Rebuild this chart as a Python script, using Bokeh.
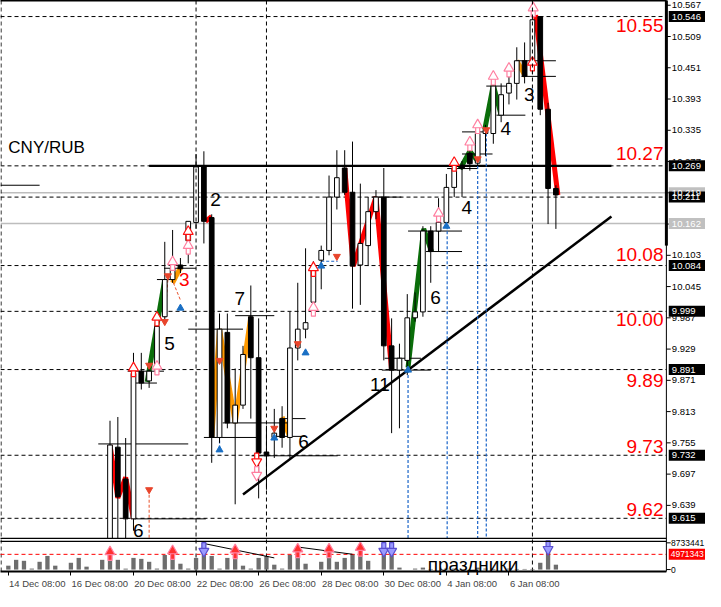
from bokeh.plotting import figure
from bokeh.models import Range1d, FixedTicker, Span, BoxAnnotation, ColumnDataSource
from bokeh.core.properties import value
from bokeh.embed import file_html
from bokeh.resources import INLINE

# ---------------- data (bar index 0 = 14 Dec 08:00) ----------------
candle_idx = list(range(13, 71))
open_ = [9.556, 9.747, 9.688, 9.614, 9.888, 9.870, 9.890, 9.989, 10.058, 10.085,
         10.130, 10.164, 10.267, 10.173, 9.765, 9.960, 9.792, 9.825, 9.989, 9.913,
         9.738, 9.765, 9.800, 9.765, 9.931, 9.966, 10.016, 10.094, 10.112, 10.211,
         10.265, 10.220, 10.085, 10.121, 10.184, 10.211, 9.935, 9.890, 9.908, 9.987,
         9.998, 10.148, 10.148, 10.164, 10.229, 10.270, 10.292, 10.274, 10.329, 10.329,
         10.363, 10.404, 10.422, 10.464, 10.464, 10.546, 10.374, 10.227]
high = [9.796, 9.803, 9.764, 9.922, 9.922, 9.904, 9.989, 10.128, 10.150, 10.098,
        10.166, 10.291, 10.296, 10.179, 9.995, 9.995, 9.893, 9.935, 10.047, 9.986,
        9.787, 9.818, 9.823, 9.998, 10.052, 10.116, 10.092, 10.121, 10.251, 10.298,
        10.298, 10.314, 10.236, 10.211, 10.224, 10.265, 9.986, 9.939, 10.031, 10.034,
        10.157, 10.157, 10.209, 10.254, 10.282, 10.278, 10.318, 10.341, 10.345, 10.440,
        10.422, 10.435, 10.489, 10.498, 10.546, 10.546, 10.386, 10.233]
low = [9.547, 9.547, 9.547, 9.592, 9.854, 9.857, 9.884, 9.980, 10.052, 10.070,
       10.088, 10.152, 10.125, 9.718, 9.755, 9.782, 9.641, 9.818, 9.800, 9.652,
       9.668, 9.727, 9.746, 9.727, 9.908, 9.949, 9.993, 10.040, 10.103, 10.188,
       10.215, 10.004, 10.011, 10.083, 10.170, 9.908, 9.773, 9.782, 9.881, 9.980,
       9.989, 10.052, 10.110, 10.157, 10.211, 10.211, 10.260, 10.269, 10.287, 10.310,
       10.350, 10.383, 10.392, 10.422, 10.440, 10.363, 10.161, 10.152]
close = [9.751, 9.655, 9.614, 9.884, 9.866, 9.888, 9.971, 10.058, 10.078, 10.078,
         10.166, 10.267, 10.166, 9.765, 9.966, 9.792, 9.825, 9.919, 9.913, 9.736,
         9.731, 9.773, 9.765, 9.931, 9.966, 9.978, 10.083, 10.112, 10.211, 10.247,
         10.220, 10.083, 10.125, 10.184, 10.211, 9.935, 9.890, 9.912, 9.987, 9.998,
         10.148, 10.110, 10.164, 10.229, 10.264, 10.264, 10.273, 10.329, 10.336, 10.417,
         10.401, 10.422, 10.464, 10.435, 10.540, 10.374, 10.227, 10.215]

vol_idx = list(range(0, 71))
vol_millions = [1.27, 3.18, 2.86, 0.32, 2.54, 4.45, 1.27, 0.0, 2.22, 3.81,
                0.95, 0.0, 3.18, 5.40, 3.18, 0.30, 3.81, 3.49, 2.54, 0.32,
                4.76, 5.40, 1.91, 0.32, 3.81, 8.73, 4.45, 0.32, 3.81, 6.99,
                1.27, 0.32, 3.81, 4.45, 1.59, 0.32, 4.76, 7.30, 1.91, 0.0,
                2.54, 5.72, 2.54, 3.81, 5.08, 7.30, 2.86, 0.0, 5.72, 5.72,
                0.64, 0.0, 0.32, 0.64, 0.20, 0.0, 0.32, 0.32, 0.20, 0.0,
                0.64, 0.32, 0.20, 0.0, 0.32, 0.20, 0.20, 0.20, 2.22, 5.72, 1.59]
VOL_MAX = 8733441
VOL_LEVEL = 4971343

price_ticks = [10.567, 10.509, 10.451, 10.393, 10.335, 10.277, 10.219, 10.161, 10.103,
               10.045, 9.987, 9.929, 9.871, 9.813, 9.755, 9.697, 9.639]
time_tick_idx = [0, 8, 16, 24, 32, 40, 48, 56, 64]
time_tick_labels = ["14 Dec 08:00", "16 Dec 08:00", "20 Dec 08:00", "22 Dec 08:00",
                    "26 Dec 08:00", "28 Dec 08:00", "30 Dec 08:00", "4 Jan 08:00", "6 Jan 08:00"]

level_prices = [10.546, 10.269, 10.211, 10.084, 9.999, 9.891, 9.732, 9.615]
grey_prices = [10.219, 10.162]
level_text = ["10.55", "10.27", "10.08", "10.00", "9.89", "9.73", "9.62"]
level_text_y = [10.529, 10.291, 10.105, 9.984, 9.870, 9.749, 9.632]

# zigzag legs (bar index, price)
zz_red_x = [[13, 14, 15, 16], [25.2, 26], [43, 44.1, 47, 49], [67.4, 70.25]]
zz_red_y = [[9.751, 9.653, 9.691, 9.614], [10.166, 10.175], [10.265, 10.083, 10.211, 9.890], [10.549, 10.215]]
zz_green_x = [[17.75, 20], [51.1, 53.1, 54.1], [57.75, 59, 60], [60.9, 62, 63]]
zz_green_y = [[9.868, 10.058], [9.895, 10.152, 10.110], [10.263, 10.296, 10.278], [10.336, 10.419, 10.363]]
zz_orange_x = [[21, 22], [26, 27, 29, 31], [35, 36], [65, 66.1]]
zz_orange_y = [[10.052, 10.080], [9.765, 9.966, 9.792, 9.989], [9.803, 9.765], [10.464, 10.435]]

# short support / resistance segments
seg_i0 = [11.5, 16.1, 15.25, 16.25, 19, 19.9, 23, 29, 27.4, 25, 31.1, 34.25, 35.25,
          46.5, 48.1, 47.75, 51.1, 53.4, 56.1, 58, 58, 61.1, 62.4, 64.9, 65.6, -1]
seg_i1 = [23, 25.25, 19.9, 19, 21.1, 24, 30, 34, 36.1, 31.75, 42.1, 38, 38,
          50.25, 52.75, 54, 58, 58, 60, 61.9, 60.9, 64.4, 66.1, 70, 70, 4]
seg_p = [9.753, 9.614, 9.888, 9.866, 10.058, 10.079, 9.966, 9.991, 9.792, 9.765, 9.731, 9.767, 9.800,
         10.211, 9.912, 9.890, 10.148, 10.110, 10.264, 10.291, 10.332, 10.417, 10.363, 10.464, 10.435, 10.233]

# trend line
trend_x = [30, 77.1]
trend_y = [9.659, 10.175]

# wave labels
wave_x = [16.6, 20.6, 22.5, 26.5, 29.6, 37.75, 47.5, 54.6, 58.6, 63.6, 66.6]
wave_y = [9.592, 9.939, 10.058, 10.206, 10.022, 9.758, 9.863, 10.025, 10.191, 10.339, 10.401]
wave_t = ["6", "5", "3", "2", "7", "6", "11", "6", "4", "4", "3"]
wave_c = ["black", "black", "red", "black", "black", "black", "black", "black", "black", "black", "black"]

# signal arrows
pink_up_x = [19, 21, 23, 39, 55, 59, 60, 62, 64, 67.1]
pink_up_y = [9.893, 10.087, 10.117, 10.002, 10.177, 10.309, 10.341, 10.431, 10.446, 10.558]
red_up_x = [16, 19, 23, 39, 57, 67]
red_up_y = [9.890, 9.984, 10.143, 10.076, 10.271, 10.457]
red_dn_hollow_x = [31.75, 31.75]
red_dn_hollow_y = [9.724, 9.699]
red_dn_x = [18, 18, 20, 20.4, 27, 34, 37, 42, 60, 61.1]
red_dn_y = [9.899, 9.668, 9.980, 10.065, 9.908, 9.782, 9.939, 10.101, 10.282, 10.336]
blue_up_x = [22, 27, 34, 38, 40, 51.1, 56]
blue_up_y = [10.005, 9.742, 9.764, 9.922, 10.083, 9.890, 10.157]

# dashed connectors
red_dash_x0 = [18, 20.4, 21.1]
red_dash_y0 = [9.668, 10.058, 10.052]
red_dash_x1 = [18, 20, 22]
red_dash_y1 = [9.5776, 9.980, 10.020]
blue_dash_x0 = [27, 40, 51.1, 56.1, 60, 61.1]
blue_dash_y0 = [9.908, 10.092, 9.890, 10.157, 10.278, 10.329]
blue_dash_x1 = [27, 42.1, 51.1, 56.1, 60, 61.1]
blue_dash_y1 = [9.742, 10.092, 9.5776, 9.5776, 9.5776, 9.5776]

# volume panel signals
vol_up_x = [13, 21, 29, 37, 41, 45]
vol_up_v = [5.08e6, 5.4e6, 5.7e6, 6.0e6, 6.0e6, 6.5e6]
vol_dn_x = [25, 48, 49, 69]
vol_dn_v = [6.7e6, 6.7e6, 6.7e6, 7.3e6]
vol_line_x = [[24.9, 34], [36.9, 44]]
vol_line_v = [[8.57e6, 3.81e6], [7.4e6, 5.0e6]]

vsep_idx = [24, 33, 67]

# ---------------- layout constants ----------------
X0, X1 = -1.0, 89.125          # whole window width (price scale drawn inside)
AX = 84.125                    # price-scale line
Y0, Y1 = 9.5163, 10.5758
MAIN_BOTTOM = 9.5776
VOL_TOP = 9.5722
VOL0_PRICE, VOLMAX_PRICE = 9.5199, 9.5695
k = VOL_MAX / (VOLMAX_PRICE - VOL0_PRICE)
PX = (Y1 - Y0) / 573.0         # price units per screen pixel (approx.)
FONT = "Liberation Sans"

p = figure(width=705, height=591, x_range=Range1d(X0, X1), y_range=Range1d(Y0, Y1),
           y_axis_location=None, toolbar_location=None, output_backend="svg",
           min_border_left=0, min_border_top=0, min_border_right=0, min_border_bottom=0)
p.extra_y_ranges = {"vol": Range1d((Y0 - VOL0_PRICE) * k, (Y1 - VOL0_PRICE) * k)}
p.grid.visible = False
p.outline_line_color = None
p.background_fill_color = "white"
p.border_fill_color = "white"

# bottom time axis (labels start at the tick, MT4 style)
lab_off = [3.7, 3.7, 3.7, 3.7, 3.7, 3.7, 3.7, 3.3, 3.3]
lab_pos = [t + o for t, o in zip(time_tick_idx, lab_off)]
xa = p.xaxis[0]
xa.ticker = FixedTicker(ticks=lab_pos, minor_ticks=time_tick_idx)
xa.major_label_overrides = {pos: lab for pos, lab in zip(lab_pos, time_tick_labels)}
xa.major_tick_out = 0
xa.major_tick_in = 0
xa.minor_tick_out = 4
xa.minor_tick_in = 0
xa.minor_tick_line_color = "black"
xa.major_label_standoff = 2
xa.major_label_text_font = FONT
xa.major_label_text_font_size = "9.5px"
xa.axis_line_color = None


def arrows(xs, ys, up, line, fill, yr="default", unit=1.0, level="glyph"):
    d = PX * unit
    sgn = 1 if up else -1
    stem_y = [y - sgn * 3.2 * d for y in ys]
    head_y = [y + sgn * 2.2 * d for y in ys]
    p.rect(xs, stem_y, width=4, height=6.5, width_units="screen", height_units="screen",
           fill_color=fill, line_color=line, line_width=1.2, y_range_name=yr, level=level)
    p.scatter(xs, head_y, marker="triangle" if up else "inverted_triangle", size=10,
              fill_color=fill, line_color=line, line_width=1.2, y_range_name=yr, level=level)


# level lines
p.segment(x0=[X0] * 2, y0=grey_prices, x1=[AX] * 2, y1=grey_prices, line_color="#bdbdbd", line_width=1.5)
p.segment(x0=[X0] * len(level_prices), y0=level_prices, x1=[AX] * len(level_prices), y1=level_prices,
          line_color="black", line_dash="4 3", line_width=1)

# zigzag bands
p.multi_line(zz_red_x, zz_red_y, line_color="#ff0000", line_width=5)
p.multi_line(zz_green_x, zz_green_y, line_color="#0a6e0a", line_width=5)
p.multi_line(zz_orange_x, zz_orange_y, line_color="#ff9a00", line_width=5)

# support segments, thick 10.269 line and trend line
p.segment(x0=seg_i0, y0=seg_p, x1=seg_i1, y1=seg_p, line_color="black", line_width=1)
p.segment(x0=[18], y0=[level_prices[1]], x1=[77.1], y1=[level_prices[1]], line_color="black", line_width=2.2)
p.line(trend_x, trend_y, line_color="black", line_width=2.5)

# dashed connectors
p.segment(x0=red_dash_x0, y0=red_dash_y0, x1=red_dash_x1, y1=red_dash_y1,
          line_color="#e8502a", line_dash="3 2", line_width=1)
p.segment(x0=blue_dash_x0, y0=blue_dash_y0, x1=blue_dash_x1, y1=blue_dash_y1,
          line_color="#1a64c8", line_dash="3 2", line_width=1.2)

# candles
top = [max(o, c) for o, c in zip(open_, close)]
bot = [min(o, c) for o, c in zip(open_, close)]
fill = ["white" if c >= o else "black" for o, c in zip(open_, close)]
src = ColumnDataSource(dict(x=candle_idx, h=high, l=low, top=top, bot=bot, fill=fill))
p.segment(x0="x", y0="h", x1="x", y1="l", line_color="black", line_width=1, source=src)
p.vbar(x="x", width=0.6, top="top", bottom="bot", fill_color="fill", line_color="black",
       line_width=1, source=src)

# arrows / markers
arrows(pink_up_x, pink_up_y, True, "#ff7fa0", "white")
arrows(red_up_x, red_up_y, True, "#ff1010", "white")
arrows(red_dn_hollow_x[:1], red_dn_hollow_y[:1], False, "#ff1010", "white")
arrows(red_dn_hollow_x[1:], red_dn_hollow_y[1:], False, "#ff7fa0", "white")
p.scatter(red_dn_x, red_dn_y, marker="inverted_triangle", size=7, color="#e8452c")
p.scatter(blue_up_x, blue_up_y, marker="triangle", size=7, color="#1a6fc4")

# wave numbers
p.text(wave_x, wave_y, text=wave_t, text_color=wave_c, text_font=value(FONT),
       text_font_size="19px", text_align="center", text_baseline="middle")

# red level labels
p.text([83.75] * len(level_text), level_text_y, text=level_text, text_color="#ff0000",
       text_font=value(FONT), text_font_size="19px", text_align="right", text_baseline="middle")

# symbol label
p.text([0], [10.303], text=["CNY/RUB"], text_color="black", text_font=value(FONT),
       text_font_size="17px", text_align="left", text_baseline="middle")

# ---- volume sub-window ----
p.add_layout(BoxAnnotation(left=X0, right=AX, bottom=Y0, top=MAIN_BOTTOM,
                           fill_color="white", fill_alpha=1.0, line_color=None))
for xi in vsep_idx + [-0.93]:
    p.add_layout(Span(location=xi, dimension="height", line_color="black", line_dash="4 3", line_width=1))
vols = [v * 1e6 for v in vol_millions]
p.vbar(x=vol_idx, top=vols, bottom=0, width=0.55, y_range_name="vol", fill_color="#6e6e6e",
       line_color=None, level="overlay")
p.segment(x0=[X0], y0=[VOL_LEVEL], x1=[AX], y1=[VOL_LEVEL], y_range_name="vol", line_color="#ff0000",
          line_dash="4 3", line_width=1, level="overlay")
p.multi_line(vol_line_x, vol_line_v, y_range_name="vol", line_color="black", line_width=1, level="overlay")
arrows(vol_up_x, vol_up_v, True, "#ff7fa0", "#ff3030", yr="vol", unit=k, level="overlay")
arrows(vol_dn_x, vol_dn_v, False, "#5a4fd0", "#9a9aff", yr="vol", unit=k, level="overlay")
p.text([59.4], [1.59e6], text=["праздники"], y_range_name="vol", text_font=value(FONT),
       text_font_size="19px", text_color="black", text_align="center", text_baseline="alphabetic", level="overlay")

# panel borders
p.segment(x0=[X0, X0, X0, X0], y0=[Y1, MAIN_BOTTOM, VOL_TOP, Y0], x1=[AX, AX, AX, AX],
          y1=[Y1, MAIN_BOTTOM, VOL_TOP, Y0], line_color="black", line_width=[2, 1.2, 1.2, 2], level="overlay")

# ---- price scale (drawn with the plot's own y scale) ----
p.segment(x0=[AX], y0=[Y0], x1=[AX], y1=[Y1], line_color="black", line_width=1, level="overlay")
p.segment(x0=[AX], y0=[10.121], x1=[AX], y1=[Y1], line_color="black", line_width=3, level="overlay")
scale_ticks = price_ticks + [VOL0_PRICE, VOLMAX_PRICE]
p.segment(x0=[AX] * len(scale_ticks), y0=scale_ticks, x1=[AX + 0.55] * len(scale_ticks), y1=scale_ticks,
          line_color="black", line_width=1, level="overlay")
p.text([AX + 0.7] * len(price_ticks), price_ticks, text=[f"{t:.3f}" for t in price_ticks],
       text_font=value(FONT), text_font_size="9.5px", text_color="black", text_align="left",
       text_baseline="middle", level="overlay")
p.text([AX + 0.6] * 2, [VOL0_PRICE, VOLMAX_PRICE], text=["0", str(VOL_MAX)],
       text_font=value(FONT), text_font_size="8.5px", text_color="black", text_align="left",
       text_baseline="middle", level="overlay")

# price tags over the scale
tag_p = grey_prices + level_prices
tag_c = ["#c0c0c0"] * len(grey_prices) + ["black"] * len(level_prices)
tag_cx = (AX + 0.3 + X1) / 2
tag_w = X1 - (AX + 0.3)
p.rect([tag_cx] * len(tag_p), tag_p, width=tag_w, height=11, height_units="screen",
       fill_color=tag_c, line_color=None, level="overlay")
p.text([AX + 0.7] * len(tag_p), tag_p, text=[f"{t:.3f}" for t in tag_p], text_font=value(FONT),
       text_font_size="9.5px", text_color="white", text_align="left", text_baseline="middle", level="overlay")
p.rect([tag_cx], [VOL_LEVEL], width=tag_w, height=11, height_units="screen", y_range_name="vol",
       fill_color="#ff0000", line_color=None, level="overlay")
p.text([AX + 0.55], [VOL_LEVEL], text=[str(VOL_LEVEL)], y_range_name="vol", text_font=value(FONT),
       text_font_size="8.5px", text_color="white", text_align="left", text_baseline="middle", level="overlay")

open("out.html", "w").write(file_html(p, INLINE, "CNY/RUB"))
